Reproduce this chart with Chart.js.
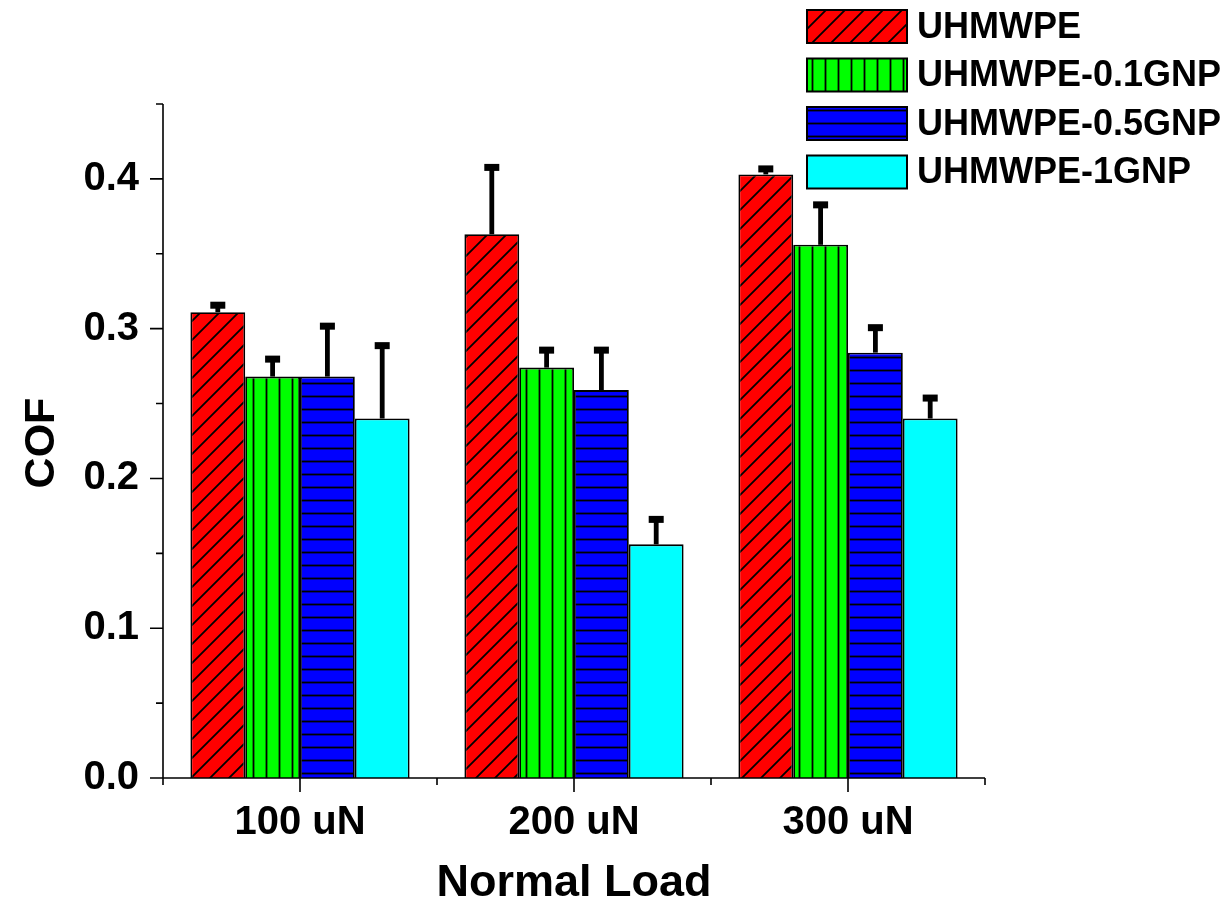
<!DOCTYPE html>
<html>
<head>
<meta charset="utf-8">
<script src="https://cdn.jsdelivr.net/npm/chart.js@4.4.0/dist/chart.umd.min.js"></script>
<style>
  body { margin: 0; background: #fff; }
  canvas { display: block; }
</style>
</head>
<body>
<canvas id="cof" width="1231" height="907"></canvas>
<script>
var categories = ['100 uN', '200 uN', '300 uN'];
var seriesNames = ['UHMWPE', 'UHMWPE-0.1GNP', 'UHMWPE-0.5GNP', 'UHMWPE-1GNP'];

var cofPE = [0.311, 0.363, 0.403];
var errPE = [0.005, 0.045, 0.004];
var cof01 = [0.268, 0.274, 0.356];
var err01 = [0.012, 0.012, 0.027];
var cof05 = [0.268, 0.259, 0.284];
var err05 = [0.034, 0.027, 0.017];
var cof1 = [0.240, 0.156, 0.240];
var err1 = [0.049, 0.017, 0.014];

var yTicks = [0, 0.1, 0.2, 0.3, 0.4];
var yMinor = [0.05, 0.15, 0.25, 0.35, 0.45];

var FONT = "'Liberation Sans', Arial, sans-serif";

// hatch fills for the bars
function hatch(color, kind, s) {
    var c = document.createElement('canvas');
    c.width = s; c.height = s;
    var g = c.getContext('2d');
    g.fillStyle = color;
    g.fillRect(0, 0, s, s);
    g.strokeStyle = '#000';
    g.lineWidth = 1.8;
    g.beginPath();
    if (kind === 'diag') {
        g.moveTo(-2, s + 2); g.lineTo(s + 2, -2);
        g.moveTo(-2, 2); g.lineTo(2, -2);
        g.moveTo(s - 2, s + 2); g.lineTo(s + 2, s - 2);
    } else if (kind === 'vert') {
        g.moveTo(s / 2, 0); g.lineTo(s / 2, s);
    } else if (kind === 'horiz') {
        g.moveTo(0, s / 2); g.lineTo(s, s / 2);
    }
    g.stroke();
    return g.createPattern(c, 'repeat');
}

var fills = [hatch('#ff0000', 'diag', 19), hatch('#00ff00', 'vert', 13), hatch('#0000ff', 'horiz', 13), '#00ffff'];
var values = [cofPE, cof01, cof05, cof1];
var errors = [errPE, err01, err05, err1];

var datasets = [];
for (var i = 0; i < seriesNames.length; i++) {
    datasets.push({
        label: seriesNames[i],
        data: values[i],
        err: errors[i],
        backgroundColor: fills[i],
        borderColor: '#000',
        borderWidth: 1.8,
        borderSkipped: 'bottom'
    });
}

// axes, ticks, titles, error bars and legend
var decor = {
    id: 'decor',
    afterDatasetsDraw: function(chart) {
        var ctx = chart.ctx;
        var y = chart.scales.y, x = chart.scales.x;
        ctx.save();
        // error bars (upper half only)
        ctx.fillStyle = '#000';
        chart.data.datasets.forEach(function(ds, di) {
            var meta = chart.getDatasetMeta(di);
            meta.data.forEach(function(bar, k) {
                var top = y.getPixelForValue(ds.data[k] + ds.err[k]);
                var base = y.getPixelForValue(ds.data[k]);
                ctx.fillRect(bar.x - 2.4, top, 4.8, base - top);
                ctx.fillRect(bar.x - 7.5, top - 3, 15, 7);
            });
        });

        var L = chart.chartArea.left, R = chart.chartArea.right;
        var T = chart.chartArea.top, B = chart.chartArea.bottom;
        ctx.strokeStyle = '#000';
        ctx.lineWidth = 1.6;
        ctx.beginPath();
        ctx.moveTo(L, T); ctx.lineTo(L, B);
        ctx.moveTo(L - 13, B); ctx.lineTo(R, B);
        yTicks.forEach(function(v) {
            var p = y.getPixelForValue(v);
            ctx.moveTo(L - 13, p); ctx.lineTo(L, p);
        });
        yMinor.forEach(function(v) {
            var p = y.getPixelForValue(v);
            ctx.moveTo(L - 7, p); ctx.lineTo(L, p);
        });
        categories.forEach(function(c, k) {
            var p = x.getPixelForValue(k);
            ctx.moveTo(p, B); ctx.lineTo(p, B + 14);
        });
        for (var k = 0; k <= categories.length; k++) {
            var q = L + (R - L) * k / categories.length;
            ctx.moveTo(q, B); ctx.lineTo(q, B + 7);
        }
        ctx.stroke();

        ctx.fillStyle = '#000';
        ctx.font = 'bold 40px ' + FONT;
        ctx.textAlign = 'right';
        ctx.textBaseline = 'middle';
        yTicks.forEach(function(v) {
            ctx.fillText(v.toFixed(1), 139, y.getPixelForValue(v));
        });
        ctx.textAlign = 'center';
        categories.forEach(function(c, k) {
            ctx.fillText(c, x.getPixelForValue(k), B + 45);
        });

        ctx.font = 'bold 45px ' + FONT;
        ctx.fillText('Normal Load', (L + R) / 2, 884);
        ctx.save();
        ctx.translate(42, 443);
        ctx.rotate(-Math.PI / 2);
        ctx.font = 'bold 43px ' + FONT;
        ctx.fillText('COF', 0, 0);
        ctx.restore();

        // legend
        ctx.textAlign = 'left';
        ctx.font = 'bold 36px ' + FONT;
        chart.data.datasets.forEach(function(ds, di) {
            var by = 10 + di * 48.5;
            ctx.fillStyle = ds.backgroundColor;
            ctx.fillRect(807, by, 100, 33);
            ctx.lineWidth = 2;
            ctx.strokeRect(807, by, 100, 33);
            ctx.fillStyle = '#000';
            ctx.fillText(ds.label, 917, by + 18);
        });
        ctx.restore();
    }
};

new Chart(document.getElementById('cof'), {
    type: 'bar',
    data: { labels: categories, datasets: datasets },
    options: {
        responsive: false,
        animation: false,
        devicePixelRatio: 1,
        layout: { padding: { left: 163, right: 246, top: 104, bottom: 129 } },
        datasets: { bar: { categoryPercentage: 0.8, barPercentage: 1.0 } },
        plugins: { legend: { display: false }, tooltip: { enabled: false } },
        scales: {
            x: { display: false, offset: true },
            y: { display: false, min: 0, max: 0.45 }
        }
    },
    plugins: [decor]
});
</script>
</body>
</html>
